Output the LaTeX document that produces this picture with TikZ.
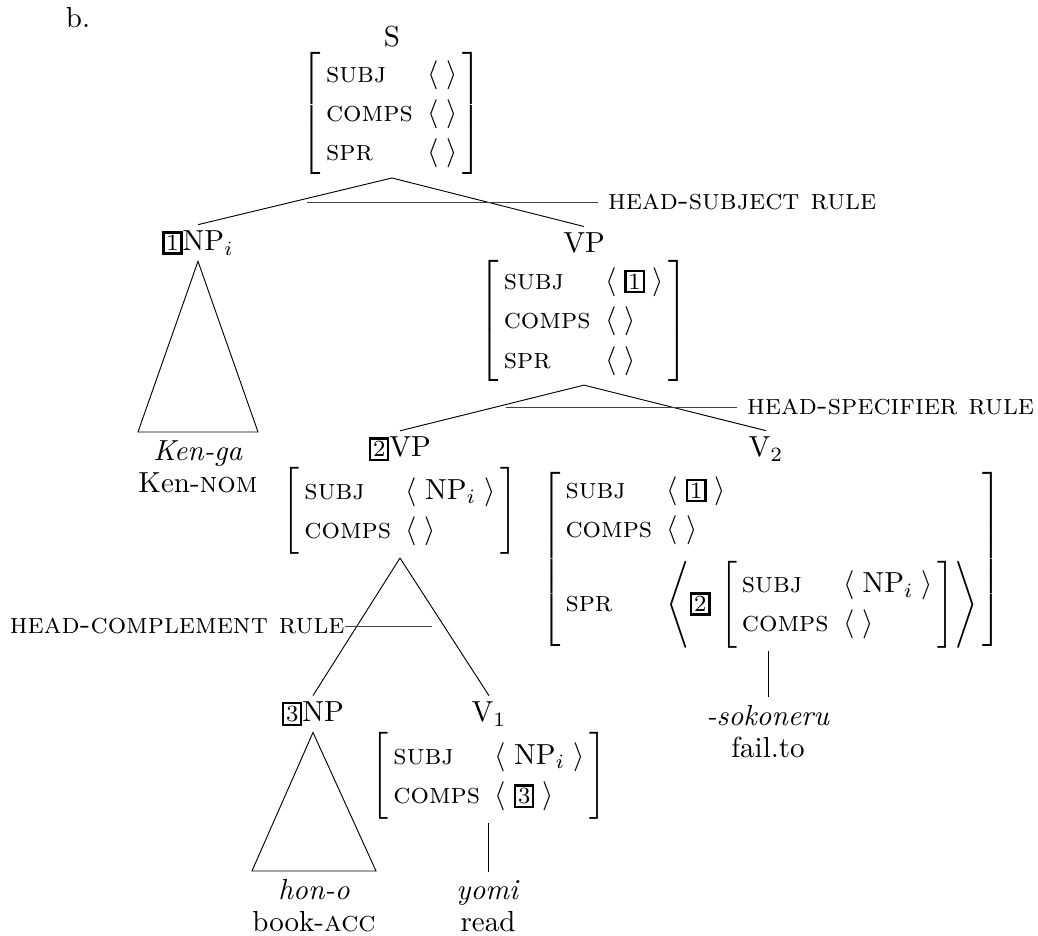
\documentclass[tikz,border=0pt]{standalone}
\usepackage{amsmath}
\usepackage{tikz}
\usetikzlibrary{positioning}

\newcommand{\tagbox}[1]{{\setlength{\fboxsep}{0.6pt}\setlength{\fboxrule}{0.8pt}\fbox{\footnotesize #1}}}
\newcommand{\ft}[1]{\text{\textsc{#1}}}
\newcommand{\elist}{\langle\;\rangle}
\newcommand{\lst}[1]{\langle\;#1\;\rangle}
\newcommand{\avmbox}[1]{\left[\renewcommand{\arraystretch}{1.13}\begin{array}{@{\,}l@{\hspace{5pt}}l@{\,}}#1\end{array}\right]}

\begin{document}
\begin{tikzpicture}[
    x=0.3448pt, y=-0.3448pt, line width=0.32pt,
    cat/.style={inner sep=2pt},
    avm/.style={inner sep=1pt},
    word/.style={align=center, inner xsep=0pt, inner ysep=2.8pt, anchor=north},
    rulename/.style={font=\scshape},
    ruleline/.style={black!75}
]
\useasboundingbox (0,0) rectangle (1038,936);

\node (ex) at (78,18) {b.};

% Categories
\node[cat] (s) at (392,37) {S};
\node[cat] (np1) at (198,243) {\tagbox{1}NP$_i$};
\node[cat] (vp) at (584,243) {VP};
\node[cat] (vp2) at (400,449) {\tagbox{2}VP};
\node[cat] (v2) at (766,449) {V$_2$};
\node[cat] (np3) at (313,714) {\tagbox{3}NP};
\node[cat] (v1) at (489,714) {V$_1$};

% Feature structures
\node[avm, below=-1.5pt of s] (savm) {$\avmbox{\ft{subj} & \elist\\ \ft{comps} & \elist\\ \ft{spr} & \elist}$};
\node[avm, below=-1pt of vp] (vpavm) {$\avmbox{\ft{subj} & \lst{\tagbox{1}}\\ \ft{comps} & \elist\\ \ft{spr} & \elist}$};
\node[avm, below=-1pt of vp2] (vp2avm) {$\avmbox{\ft{subj} & \lst{\mathrm{NP}_i}\\ \ft{comps} & \elist}$};
\node[avm, below=0pt of v2, xshift=2pt] (v2avm) {$\avmbox{\ft{subj} & \lst{\tagbox{1}}\\ \ft{comps} & \elist\\[4pt] \ft{spr} & \left\langle\tagbox{2}\,\avmbox{\ft{subj} & \lst{\mathrm{NP}_i}\\ \ft{comps} & \elist}\right\rangle}$};
\node[avm, below=-1pt of v1] (v1avm) {$\avmbox{\ft{subj} & \lst{\mathrm{NP}_i}\\ \ft{comps} & \lst{\tagbox{3}}}$};

% Words
\node[word] (kenga) at (198,432) {\textit{Ken-ga}\\[-1pt]Ken-\textsc{nom}};
\node[word] (hono) at (314,871) {\textit{hon-o}\\[-1pt]book-\textsc{acc}};
\node[word] (yomi) at (488,872) {\textit{yomi}\\[-1pt]read};
\node[word] (soko) at (768,697) {\textit{-sokoneru}\\[-1pt]fail.to};

% Branches
\draw (savm.south) -- (np1.north);
\draw (savm.south) -- (vp.north);
\draw (vpavm.south) -- (vp2.north);
\draw (vpavm.south) -- (v2.north);
\draw (vp2avm.south) -- (np3.north);
\draw (vp2avm.south) -- (v1.north);
\draw (np1.south) -- (kenga.north west) -- (kenga.north east) -- cycle;
\draw (np3.south) -- (hono.north west) -- (hono.north east) -- cycle;
\draw (yomi.north |- v1avm.south) -- (yomi.north);
\draw (soko.north |- v2avm.south) -- (soko.north);

% Rules
\coordinate (hsub) at (307,202);
\node[rulename, anchor=west] (hsubrule) at (598,202) {head-subject rule};
\draw[ruleline] (hsub) -- (hsubrule);
\coordinate (hspr) at (506,407);
\node[rulename, anchor=west] (hsprrule) at (737,407) {head-specifier rule};
\draw[ruleline] (hspr) -- (hsprrule);
\coordinate (hcomp) at (432,626);
\node[rulename, anchor=east, inner xsep=0pt] (hcomprule) at (345,626) {head-complement rule};
\draw[ruleline] (hcomp) -- (hcomprule);

\end{tikzpicture}
\end{document}
